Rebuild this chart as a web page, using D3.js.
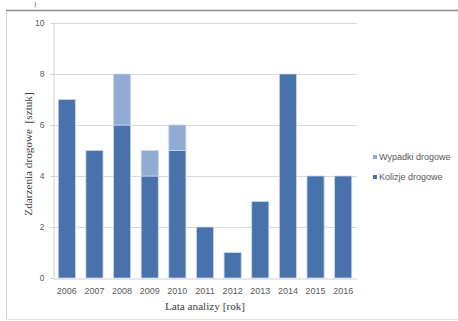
<!DOCTYPE html>
<html>
<head>
<meta charset="utf-8">
<script src="https://cdn.jsdelivr.net/npm/d3@7"></script>
<style>
  html, body { margin: 0; padding: 0; background: #ffffff; }
  svg { display: block; }
</style>
</head>
<body>
<svg id="chart" width="458" height="321"></svg>
<script>
// Road events per year, stacked: collisions at the bottom, accidents on top
const years = ["2006", "2007", "2008", "2009", "2010", "2011", "2012", "2013", "2014", "2015", "2016"];
const kolizje = [7, 5, 6, 4, 5, 2, 1, 3, 8, 4, 4];
const wypadki = [0, 0, 2, 1, 1, 0, 0, 0, 0, 0, 0];
const yTicks = [0, 2, 4, 6, 8, 10];
const seriesNames = ["Kolizje drogowe", "Wypadki drogowe"];
const seriesColors = ["#4772ab", "#91abd3"];

const svg = d3.select("#chart");
const W = 458, H = 321;
const m = { left: 53, right: 101, top: 23, bottom: 43 };

// outer frame
svg.append("line").attr("x1", 6).attr("x2", W).attr("y1", 10.5).attr("y2", 10.5)
  .attr("stroke", "#8a8a8a").attr("stroke-width", 1.6);
svg.append("line").attr("x1", 6.5).attr("x2", 6.5).attr("y1", 11).attr("y2", 320)
  .attr("stroke", "#d4d4d4").attr("stroke-width", 1);
svg.append("line").attr("x1", 6).attr("x2", W).attr("y1", 319.5).attr("y2", 319.5)
  .attr("stroke", "#e2e2e2").attr("stroke-width", 1);
svg.append("text").attr("x", 34).attr("y", 6)
  .attr("font-family", "Liberation Serif").attr("font-size", 7).attr("fill", "#555")
  .text(")");

const x = d3.scaleBand().domain(years).range([m.left, W - m.right]).paddingInner(0.38).paddingOuter(0.19);
const y = d3.scaleLinear().domain([0, 10]).range([H - m.bottom, m.top]);

// gridlines
svg.append("g").selectAll("line").data(yTicks.filter(t => t > 0)).join("line")
  .attr("x1", m.left).attr("x2", W - m.right)
  .attr("y1", d => Math.round(y(d)) + 0.5).attr("y2", d => Math.round(y(d)) + 0.5)
  .attr("stroke", "#d9d9d9").attr("stroke-width", 1);

// stacked bars
const rows = years.map((yr, i) => ({ year: yr, "Kolizje drogowe": kolizje[i], "Wypadki drogowe": wypadki[i] }));
const stacked = d3.stack().keys(seriesNames)(rows);
const gBars = svg.append("g");
stacked.forEach((layer, li) => {
  gBars.append("g").selectAll("rect").data(layer.filter(d => d[1] > d[0])).join("rect")
    .attr("x", d => x(d.data.year))
    .attr("width", x.bandwidth())
    .attr("y", d => y(d[1]))
    .attr("height", d => y(d[0]) - y(d[1]))
    .attr("fill", seriesColors[li])
    .attr("stroke", "#c9d7ec").attr("stroke-width", 0.8);
});

// y axis
const yAxis = d3.axisLeft(y).tickValues(yTicks).tickSize(3).tickPadding(6).tickFormat(d3.format("d"));
const gy = svg.append("g").attr("transform", `translate(${m.left + 0.5},0)`).call(yAxis);
gy.select(".domain").attr("stroke", "#d0d0d0");
gy.selectAll(".tick line").attr("stroke", "#d0d0d0");
gy.selectAll(".tick text").attr("font-family", "Liberation Sans").attr("font-size", 8.5).attr("fill", "#595959");

// x axis
const xAxis = d3.axisBottom(x).tickSize(0).tickPadding(9);
const gx = svg.append("g").attr("transform", `translate(0,${Math.round(y(0)) + 0.5})`).call(xAxis);
gx.select(".domain").attr("stroke", "#d0d0d0");
gx.selectAll(".tick text").attr("font-family", "Liberation Sans").attr("font-size", 9).attr("fill", "#595959");

// axis titles
svg.append("text").attr("x", 205).attr("y", 310).attr("text-anchor", "middle")
  .attr("font-family", "Liberation Serif").attr("font-size", 11.2).attr("fill", "#404040")
  .text("Lata analizy [rok]");
svg.append("text").attr("transform", "translate(32,154) rotate(-90)").attr("text-anchor", "middle")
  .attr("font-family", "Liberation Serif").attr("font-size", 11.2).attr("fill", "#404040")
  .attr("xml:space", "preserve")
  .text("Zdarzenia drogowe  [sztuk]");

// legend
const legendItems = [seriesNames[1], seriesNames[0]];
const legendColors = [seriesColors[1], seriesColors[0]];
const gl = svg.append("g").attr("transform", "translate(373,160)");
legendItems.forEach((name, i) => {
  const row = gl.append("g").attr("transform", `translate(0,${i * 20})`);
  row.append("rect").attr("x", 0).attr("y", -5).attr("width", 4).attr("height", 4).attr("fill", legendColors[i]);
  row.append("text").attr("x", 6).attr("y", 0)
    .attr("font-family", "Liberation Sans").attr("font-size", 9).attr("fill", "#595959")
    .text(name);
});
</script>
</body>
</html>
